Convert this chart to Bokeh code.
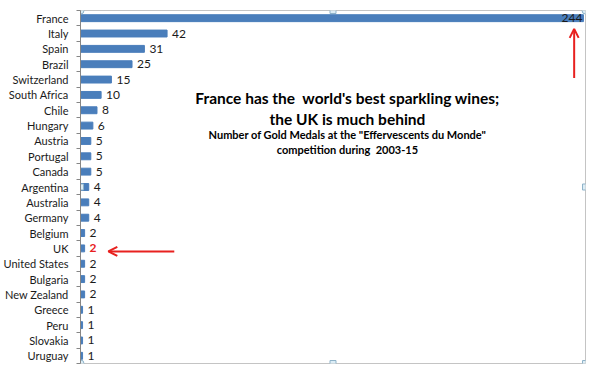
from bokeh.plotting import figure
from bokeh.models import (ColumnDataSource, Range1d, FixedTicker, CustomJSTickFormatter,
                          Label, Arrow, OpenHead)
from bokeh.embed import file_html
from bokeh.resources import INLINE
from bokeh.core.properties import value

countries = ["France", "Italy", "Spain", "Brazil", "Switzerland", "South Africa", "Chile",
             "Hungary", "Austria", "Portugal", "Canada", "Argentina", "Australia", "Germany",
             "Belgium", "UK", "United States", "Bulgaria", "New Zealand", "Greece", "Peru",
             "Slovakia", "Uruguay"]
medals = [244, 42, 31, 25, 15, 10, 8, 6, 5, 5, 5, 4, 4, 4, 2, 2, 2, 2, 2, 1, 1, 1, 1]
highlight = "UK"

title_lines = ["France has the  world's best sparkling wines;", "the UK is much behind"]
subtitle_lines = ['Number of Gold Medals at the "Effervescents du Monde"', "competition during  2003-15"]

n = len(countries)
ypos = [n - 1 - i + 0.5 for i in range(n)]
xmax = 245
FONT = "Lato"


def keep_spaces(s):
    return s.replace("  ", " \u00a0")


top = max(medals)
out_idx = [i for i in range(n) if medals[i] != top and countries[i] != highlight]
src_out = ColumnDataSource(dict(x=[medals[i] for i in out_idx], y=[ypos[i] for i in out_idx],
                                t=[str(medals[i]) for i in out_idx]))
src_bar = ColumnDataSource(dict(x=medals, y=ypos))

p = figure(width=587, height=373, output_backend="svg", toolbar_location=None,
           x_range=Range1d(0, xmax), y_range=Range1d(0, n),
           min_border_left=78, min_border_top=10, min_border_right=2, min_border_bottom=10)
p.background_fill_color = "white"
p.border_fill_color = "white"
p.outline_line_color = "#c4c4c4"
p.outline_line_width = 1
p.grid.visible = False
p.xaxis.visible = False

p.hbar(y="y", left=0, right="x", height=0.45, source=src_bar, color="#4a7ebb")

ax = p.yaxis[0]
ax.ticker = FixedTicker(ticks=ypos, minor_ticks=list(range(0, n + 1)))
ax.formatter = CustomJSTickFormatter(args=dict(names=countries, n=n),
                                     code="return names[n - 1 - Math.floor(tick)];")
ax.major_tick_out = 0
ax.major_tick_in = 0
ax.minor_tick_out = 4
ax.minor_tick_in = 0
ax.minor_tick_line_color = "#868686"
ax.axis_line_color = "#868686"
ax.major_label_standoff = 8
ax.major_label_text_font = FONT
ax.major_label_text_font_size = "11px"
ax.major_label_text_color = "#1a1a1a"

p.text(x="x", y="y", text="t", source=src_out, x_offset=5, text_baseline="middle",
       text_font=value(FONT), text_font_size="12px", text_color="#1a1a1a")

# highlighted country label
hi = countries.index(highlight)
p.text(x=[medals[hi]], y=[ypos[hi]], text=[str(medals[hi])], x_offset=5, text_baseline="middle",
       text_font=value(FONT), text_font_size="12px", text_font_style="bold", text_color="#e8211f")

# top label inside the bar end
ti = medals.index(top)
p.text(x=[medals[ti]], y=[ypos[ti]], text=[str(medals[ti])], x_offset=-1, text_align="right",
       text_baseline="middle", text_font=value(FONT), text_font_size="12px", text_color="#1a1a1a")

# titles
for t, yy in zip(title_lines, [17.27, 15.9]):
    p.add_layout(Label(x=129.5, y=yy, text=keep_spaces(t), text_align="center", text_baseline="middle",
                       text_font=FONT, text_font_size="15.5px", text_font_style="bold",
                       text_color="#000000"))
for t, yy in zip(subtitle_lines, [14.92, 13.94]):
    p.add_layout(Label(x=129.5, y=yy, text=keep_spaces(t), text_align="center", text_baseline="middle",
                       text_font=FONT, text_font_size="11px", text_font_style="bold",
                       text_color="#000000"))

# arrows
p.add_layout(Arrow(end=OpenHead(size=9, line_color="#e8211f", line_width=2),
                   x_start=239.5, y_start=18.6, x_end=239.5, y_end=21.8,
                   line_color="#e8211f", line_width=2))
p.add_layout(Arrow(end=OpenHead(size=9, line_color="#e8211f", line_width=2),
                   x_start=45.5, y_start=ypos[hi] - 0.2, x_end=13.5, y_end=ypos[hi] - 0.2,
                   line_color="#e8211f", line_width=2))

# selection handles
p.scatter(x=[0, xmax, 0], y=[n, n, 0], marker="circle", size=7,
          fill_color="#dcedf6", line_color="#8fb3c9")
p.scatter(x=[xmax / 2, xmax, xmax / 2, xmax, 0], y=[n, n / 2, 0, 0, n / 2], marker="square", size=6,
          fill_color="#dcedf6", line_color="#8fb3c9")

open("out.html", "w").write(file_html(p, INLINE))
